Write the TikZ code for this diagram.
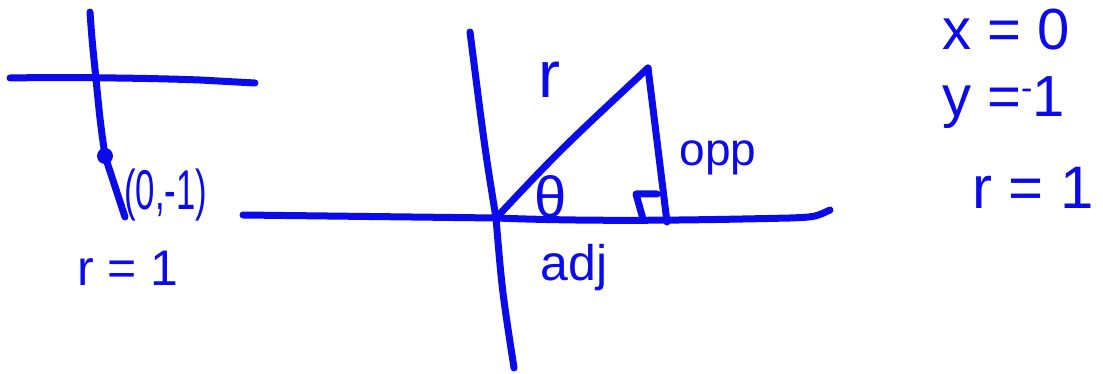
\documentclass[tikz,border=0pt]{standalone}
\usepackage{fontspec}
\setmainfont{Liberation Sans}
\definecolor{ink}{RGB}{10,10,235}
\tikzset{
  pen/.style={draw=ink, line width=7pt, line cap=round, line join=round},
  hand/.style={text=ink, inner sep=0pt, anchor=center},
}
\begin{document}
\begin{tikzpicture}[x=1pt,y=-1pt]
\useasboundingbox (0,0) rectangle (1103,374);
% ---------- left sketch ----------
\coordinate (LvTop) at (90,12);
\coordinate (Lo) at (96,79);
\coordinate (Lpt) at (105,156);
\coordinate (LvEnd) at (125,217);
\draw[pen] (LvTop) .. controls (92,40) .. (Lo) .. controls (100,120) .. (Lpt) -- (LvEnd);
\draw[pen] (10,78) .. controls (60,77) and (150,78) .. (200,80) -- (255,83);
\fill[ink] (Lpt) circle (8);
\node[hand, anchor=west, font=\fontsize{56}{56}\selectfont] (Lpair) at (124,195) {\scalebox{0.62}[1]{(0,-1)}};
\node[hand, font=\fontsize{50}{50}\selectfont] (Lr) at (128,268) {r = 1};
% ---------- middle sketch ----------
\coordinate (Mtop) at (470,32);
\coordinate (O) at (496,218);
\coordinate (Mbot) at (514,368);
\coordinate (Hx) at (243,215);
\coordinate (Hend) at (830,210);
\coordinate (A) at (648,68);
\coordinate (B) at (667,222);
\draw[pen] (Mtop) .. controls (485,150) .. (O) .. controls (502,290) .. (Mbot);
\draw[pen] (Hx) -- (O) .. controls (600,222) and (700,220) .. (790,218) .. controls (815,217) .. (Hend);
\draw[pen] (O) .. controls (560,150) .. (A);
\draw[pen] (A) -- (B);
\draw[pen] (643,219) -- (636,194) -- (657,194);
\node[hand, font=\fontsize{66}{66}\selectfont] (Mr) at (549,80) {r};
\node[hand, font=\fontsize{58}{58}\selectfont] (Mth) at (551,197) {θ};
\node[hand, font=\fontsize{46}{46}\selectfont] (Mopp) at (718,158) {opp};
\node[hand, font=\fontsize{50}{50}\selectfont] (Madj) at (574,268) {adj};
% ---------- right text ----------
\node[hand, font=\fontsize{58}{58}\selectfont, anchor=west] (Rx) at (942,30) {x = 0};
\node[hand, font=\fontsize{58}{58}\selectfont, anchor=west] (Ry) at (942,103) {y =\raisebox{0.3em}{\fontsize{34}{34}\selectfont -}1};
\node[hand, font=\fontsize{60}{60}\selectfont, anchor=west] (Rr) at (972,188) {r = 1};
\end{tikzpicture}
\end{document}
